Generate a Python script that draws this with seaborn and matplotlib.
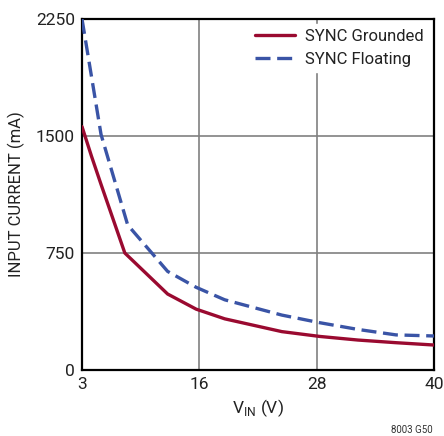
import matplotlib
matplotlib.use("Agg")
import matplotlib.pyplot as plt
import numpy as np
import pandas as pd
import seaborn as sns

# Input current vs input voltage
vin_grounded = [3, 4, 5, 7.5, 12, 15, 18, 24, 28, 32, 36, 40]
current_grounded = [1560, 1370, 1190, 750, 487, 390, 328, 246, 215, 192, 175, 160]

vin_floating = [3, 4, 5, 7.8, 12, 15, 18, 24, 28, 32, 36, 40]
current_floating = [2250, 1880, 1510, 930, 632, 530, 450, 352, 303, 260, 225, 218]

x_ticks = [3, 15.33, 27.67, 40]
x_tick_labels = ["3", "16", "28", "40"]
y_ticks = [0, 750, 1500, 2250]

df = pd.concat([
    pd.DataFrame({"vin": vin_grounded, "current": current_grounded, "mode": "SYNC Grounded"}),
    pd.DataFrame({"vin": vin_floating, "current": current_floating, "mode": "SYNC Floating"}),
])

sns.set_style("white")
plt.rcParams["font.family"] = ["Roboto", "Liberation Sans", "DejaVu Sans"]

fig = plt.figure(figsize=(4.44, 4.36), dpi=100)
ax = fig.add_axes([0.1847, 0.1514, 0.7928, 0.805])

palette = {"SYNC Grounded": "#9a0a30", "SYNC Floating": "#3a54a6"}
sns.lineplot(
    data=df, x="vin", y="current", hue="mode", style="mode",
    palette=palette, dashes={"SYNC Grounded": "", "SYNC Floating": (4.5, 2.0)},
    linewidth=2.4, sort=False, estimator=None, ax=ax, zorder=3
)

ax.set_xlim(3, 40)
ax.set_ylim(0, 2250)
ax.set_xticks(x_ticks)
ax.set_xticklabels(x_tick_labels)
ax.set_yticks(y_ticks)
ax.tick_params(axis="both", length=0, labelsize=12.5, colors="#222222", pad=5)
ax.grid(True, color="#808080", linewidth=1.2, zorder=1)

for spine in ax.spines.values():
    spine.set_color("black")
    spine.set_linewidth(1.6)

ax.set_xlabel("V$_{\\mathregular{IN}}$ (V)", fontsize=12.5, color="#222222", labelpad=4)
ax.set_ylabel("INPUT CURRENT (mA)", fontsize=12, color="#222222", labelpad=8)

leg = ax.legend(
    loc="upper right", fontsize=12, frameon=True, fancybox=False,
    framealpha=1, edgecolor="white", handlelength=2.4, handletextpad=0.6,
    borderaxespad=0.3, labelspacing=0.45, borderpad=0.3
)
leg.set_zorder(5)
for t in leg.get_texts():
    t.set_color("#222222")

fig.text(0.975, 0.003, "8003 G50", fontsize=7, ha="right", va="bottom", color="#333333")

fig.savefig("out.png", dpi=100)
